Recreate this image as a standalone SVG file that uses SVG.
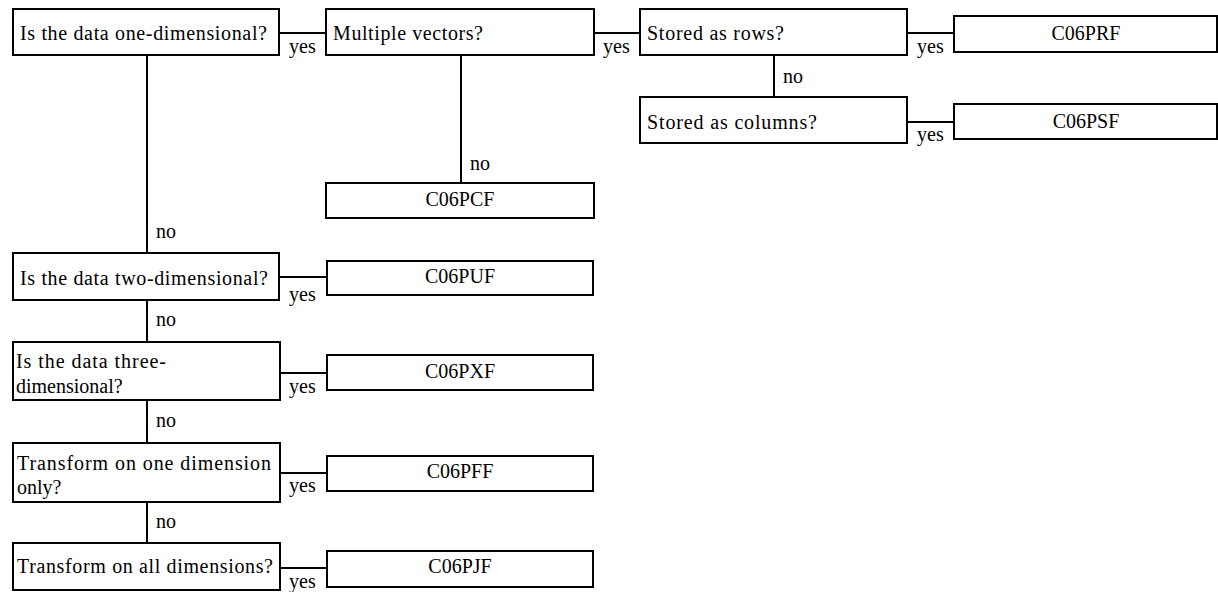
<svg xmlns="http://www.w3.org/2000/svg" width="1218" height="592" viewBox="0 0 1218 592">
<style>
rect{fill:#fff;stroke:#000;stroke-width:2}
line{stroke:#000;stroke-width:2}
text{font-family:"Liberation Serif","Times New Roman",serif;font-size:20px;fill:#000}
.c{text-anchor:middle}
</style>
<rect x="0" y="0" width="1218" height="592" style="stroke:none"/>
<g id="connectors">
<line x1="279" y1="33" x2="326" y2="33"/>
<line x1="594" y1="33" x2="640" y2="33"/>
<line x1="907" y1="33" x2="954" y2="33"/>
<line x1="774" y1="55" x2="774" y2="97"/>
<line x1="907" y1="122" x2="954" y2="122"/>
<line x1="461" y1="55" x2="461" y2="183"/>
<line x1="147" y1="55" x2="147" y2="253"/>
<line x1="279" y1="277" x2="327" y2="277"/>
<line x1="147" y1="300" x2="147" y2="342"/>
<line x1="280" y1="373" x2="327" y2="373"/>
<line x1="147" y1="400" x2="147" y2="443"/>
<line x1="280" y1="473" x2="327" y2="473"/>
<line x1="147" y1="502" x2="147" y2="543"/>
<line x1="280" y1="568" x2="327" y2="568"/>
<text x="289" y="53">yes</text>
<text x="603" y="53">yes</text>
<text x="917" y="53">yes</text>
<text x="783" y="83">no</text>
<text x="917" y="141">yes</text>
<text x="470" y="170">no</text>
<text x="156" y="238">no</text>
<text x="289" y="301">yes</text>
<text x="156" y="326">no</text>
<text x="289" y="393">yes</text>
<text x="156" y="427">no</text>
<text x="289" y="492">yes</text>
<text x="156" y="528">no</text>
<text x="289" y="588">yes</text>
</g>
<g id="q1"><rect x="13" y="9" width="266" height="46"/><text x="20" y="40" textLength="247" lengthAdjust="spacing">Is the data one-dimensional?</text></g>
<g id="q2"><rect x="326" y="9" width="268" height="46"/><text x="333" y="40" textLength="150" lengthAdjust="spacing">Multiple vectors?</text></g>
<g id="q3"><rect x="640" y="9" width="267" height="46"/><text x="647" y="40" textLength="137" lengthAdjust="spacing">Stored as rows?</text></g>
<g id="q4"><rect x="640" y="97" width="267" height="46"/><text x="647" y="129" textLength="170" lengthAdjust="spacing">Stored as columns?</text></g>
<g id="r_prf"><rect x="954" y="16" width="263" height="36"/><text class="c" x="1086" y="40">C06PRF</text></g>
<g id="r_psf"><rect x="954" y="104" width="263" height="35"/><text class="c" x="1086" y="128">C06PSF</text></g>
<g id="r_pcf"><rect x="326" y="183" width="268" height="35"/><text class="c" x="460" y="206">C06PCF</text></g>
<g id="q5"><rect x="13" y="253" width="266" height="47"/><text x="20" y="285" textLength="248" lengthAdjust="spacing">Is the data two-dimensional?</text></g>
<g id="r_puf"><rect x="327" y="261" width="266" height="34"/><text class="c" x="460" y="283">C06PUF</text></g>
<g id="q6"><rect x="13" y="342" width="267" height="58"/><text x="16" y="368" textLength="150" lengthAdjust="spacing">Is the data three-</text><text x="16" y="393">dimensional?</text></g>
<g id="r_pxf"><rect x="327" y="355" width="266" height="35"/><text class="c" x="460" y="378">C06PXF</text></g>
<g id="q7"><rect x="13" y="443" width="267" height="59"/><text x="17" y="470" textLength="254" lengthAdjust="spacing">Transform on one dimension</text><text x="17" y="494">only?</text></g>
<g id="r_pff"><rect x="327" y="456" width="266" height="35"/><text class="c" x="460" y="478">C06PFF</text></g>
<g id="q8"><rect x="13" y="543" width="267" height="47"/><text x="17" y="573" textLength="256" lengthAdjust="spacing">Transform on all dimensions?</text></g>
<g id="r_pjf"><rect x="327" y="551" width="266" height="36"/><text class="c" x="460" y="573">C06PJF</text></g>
</svg>
